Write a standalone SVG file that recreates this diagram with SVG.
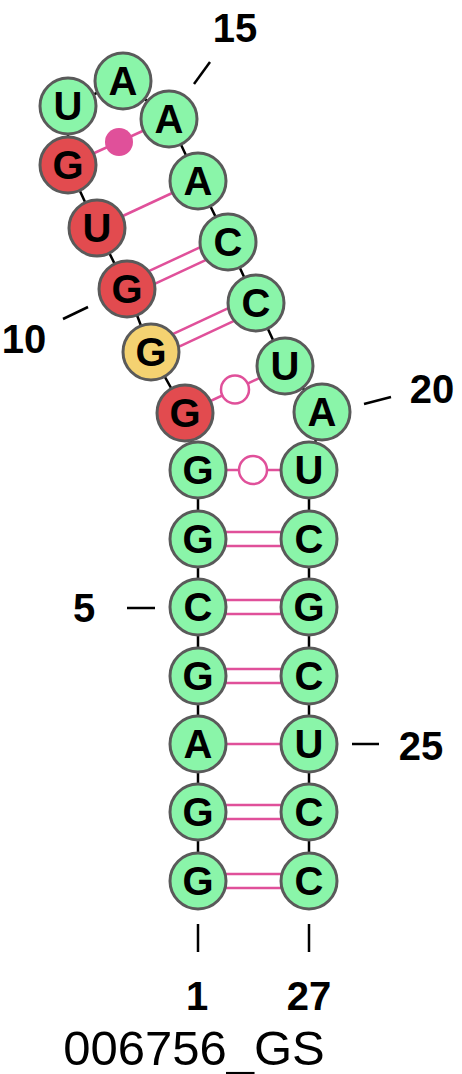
<svg xmlns="http://www.w3.org/2000/svg" width="462" height="1074" viewBox="0 0 462 1074">
<style>
.n{stroke:#5a5a5a;stroke-width:3}
.g{fill:#8af5a9}.r{fill:#e24b4f}.y{fill:#f4d271}
.t{font-family:"Liberation Sans",Arial,sans-serif;font-weight:bold;font-size:40px;text-anchor:middle;fill:#000}
.bb{stroke:#000;stroke-width:2.5;fill:none}
.bp{stroke:#e0509a;stroke-width:2.5;fill:none}
.wb{stroke:#e0509a;stroke-width:2.5;fill:#fff}
.lb{font-family:"Liberation Sans",Arial,sans-serif;font-weight:bold;font-size:40px;text-anchor:middle;fill:#000}
.tk{stroke:#000;stroke-width:2.5}
</style>
<rect width="462" height="1074" fill="#fff"/>
<g id="connectors">
<polyline class="bb" points="198,881 198,812 198,744 198,676 198,607 198,539 198,470 185,413 151,352 127,289 97,228 68,165 68,106 123,81 169,119 198,181 228,242 256,303 285,366 322,412 309,470 309,539 309,607 309,676 309,744 309,812 309,881"/>
<line class="bp" x1="198" y1="874" x2="309" y2="874"/><line class="bp" x1="198" y1="888" x2="309" y2="888"/>
<line class="bp" x1="198" y1="805" x2="309" y2="805"/><line class="bp" x1="198" y1="819" x2="309" y2="819"/>
<line class="bp" x1="198" y1="744" x2="309" y2="744"/>
<line class="bp" x1="198" y1="669" x2="309" y2="669"/><line class="bp" x1="198" y1="683" x2="309" y2="683"/>
<line class="bp" x1="198" y1="600" x2="309" y2="600"/><line class="bp" x1="198" y1="614" x2="309" y2="614"/>
<line class="bp" x1="198" y1="532" x2="309" y2="532"/><line class="bp" x1="198" y1="546" x2="309" y2="546"/>
<line class="bp" x1="198" y1="470" x2="309" y2="470"/>
<circle class="wb" cx="253" cy="470" r="14"/>
<line class="bp" x1="185" y1="413" x2="285" y2="366"/>
<circle class="wb" cx="235" cy="389.5" r="14"/>
<line class="bp" x1="148" y1="345.7" x2="253" y2="296.7"/><line class="bp" x1="154" y1="358.3" x2="259" y2="309.3"/>
<line class="bp" x1="124" y1="282.7" x2="225" y2="235.7"/><line class="bp" x1="130" y1="295.3" x2="231" y2="248.3"/>
<line class="bp" x1="97" y1="228" x2="198" y2="181"/>
<line class="bp" x1="68" y1="165" x2="169" y2="119"/>
<circle cx="119" cy="142" r="14" fill="#e0509a"/>
</g>
<g id="n1"><circle class="n g" cx="198" cy="881" r="28"/><text class="t" x="198" y="895">G</text></g>
<g id="n2"><circle class="n g" cx="198" cy="812" r="28"/><text class="t" x="198" y="826">G</text></g>
<g id="n3"><circle class="n g" cx="198" cy="744" r="28"/><text class="t" x="198" y="758">A</text></g>
<g id="n4"><circle class="n g" cx="198" cy="676" r="28"/><text class="t" x="198" y="690">G</text></g>
<g id="n5"><circle class="n g" cx="198" cy="607" r="28"/><text class="t" x="198" y="621">C</text></g>
<g id="n6"><circle class="n g" cx="198" cy="539" r="28"/><text class="t" x="198" y="553">G</text></g>
<g id="n7"><circle class="n g" cx="198" cy="470" r="28"/><text class="t" x="198" y="484">G</text></g>
<g id="n8"><circle class="n r" cx="185" cy="413" r="28"/><text class="t" x="185" y="427">G</text></g>
<g id="n9"><circle class="n y" cx="151" cy="352" r="28"/><text class="t" x="151" y="366">G</text></g>
<g id="n10"><circle class="n r" cx="127" cy="289" r="28"/><text class="t" x="127" y="303">G</text></g>
<g id="n11"><circle class="n r" cx="97" cy="228" r="28"/><text class="t" x="97" y="242">U</text></g>
<g id="n12"><circle class="n r" cx="68" cy="165" r="28"/><text class="t" x="68" y="179">G</text></g>
<g id="n13"><circle class="n g" cx="68" cy="106" r="28"/><text class="t" x="68" y="120">U</text></g>
<g id="n14"><circle class="n g" cx="123" cy="81" r="28"/><text class="t" x="123" y="95">A</text></g>
<g id="n15"><circle class="n g" cx="169" cy="119" r="28"/><text class="t" x="169" y="133">A</text></g>
<g id="n16"><circle class="n g" cx="198" cy="181" r="28"/><text class="t" x="198" y="195">A</text></g>
<g id="n17"><circle class="n g" cx="228" cy="242" r="28"/><text class="t" x="228" y="256">C</text></g>
<g id="n18"><circle class="n g" cx="256" cy="303" r="28"/><text class="t" x="256" y="317">C</text></g>
<g id="n19"><circle class="n g" cx="285" cy="366" r="28"/><text class="t" x="285" y="380">U</text></g>
<g id="n20"><circle class="n g" cx="322" cy="412" r="28"/><text class="t" x="322" y="426">A</text></g>
<g id="n21"><circle class="n g" cx="309" cy="470" r="28"/><text class="t" x="309" y="484">U</text></g>
<g id="n22"><circle class="n g" cx="309" cy="539" r="28"/><text class="t" x="309" y="553">C</text></g>
<g id="n23"><circle class="n g" cx="309" cy="607" r="28"/><text class="t" x="309" y="621">G</text></g>
<g id="n24"><circle class="n g" cx="309" cy="676" r="28"/><text class="t" x="309" y="690">C</text></g>
<g id="n25"><circle class="n g" cx="309" cy="744" r="28"/><text class="t" x="309" y="758">U</text></g>
<g id="n26"><circle class="n g" cx="309" cy="812" r="28"/><text class="t" x="309" y="826">C</text></g>
<g id="n27"><circle class="n g" cx="309" cy="881" r="28"/><text class="t" x="309" y="895">C</text></g>
<g id="labels">
<line class="tk" x1="194" y1="84" x2="210" y2="62"/><text class="lb" x="235" y="42">15</text>
<line class="tk" x1="63" y1="319" x2="88" y2="307"/><text class="lb" x="24" y="353" fill="#333">10</text>
<line class="tk" x1="364" y1="404" x2="391" y2="397"/><text class="lb" x="432" y="403">20</text>
<line class="tk" x1="127" y1="608" x2="155" y2="608"/><text class="lb" x="84" y="622">5</text>
<line class="tk" x1="352" y1="744" x2="379" y2="744"/><text class="lb" x="421" y="760">25</text>
<line class="tk" x1="198" y1="924" x2="198" y2="952"/><text class="lb" x="197" y="1010">1</text>
<line class="tk" x1="309" y1="924" x2="309" y2="952"/><text class="lb" x="309" y="1010">27</text>
<text x="194" y="1065" font-family="Liberation Sans, Arial, sans-serif" font-size="49" text-anchor="middle" fill="#000">006756_GS</text>
</g>
</svg>
